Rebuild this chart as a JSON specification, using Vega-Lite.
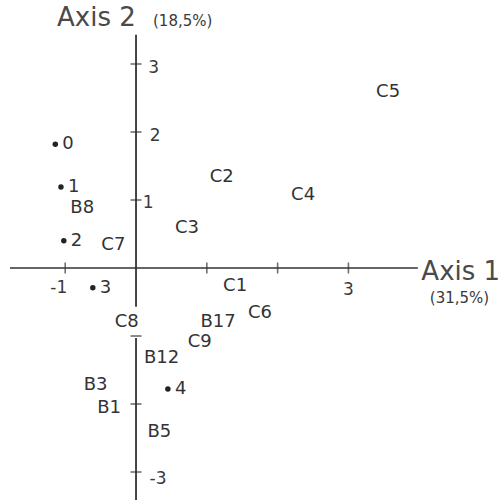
{
  "$schema": "https://vega.github.io/schema/vega-lite/v6.json",
  "width": 502,
  "height": 502,
  "padding": 0,
  "autosize": "none",
  "background": "white",
  "config": {"view": {"stroke": null}},
  "datasets": {
    "pts": [
      {"label": "0", "x": -1.14, "y": 1.82, "dot": true},
      {"label": "1", "x": -1.06, "y": 1.19, "dot": true},
      {"label": "2", "x": -1.02, "y": 0.40, "dot": true},
      {"label": "3", "x": -0.61, "y": -0.29, "dot": true},
      {"label": "4", "x": 0.45, "y": -1.78, "dot": true},
      {"label": "B8", "x": -0.76, "y": 0.88, "dot": false},
      {"label": "C7", "x": -0.32, "y": 0.34, "dot": false},
      {"label": "C3", "x": 0.72, "y": 0.59, "dot": false},
      {"label": "C2", "x": 1.21, "y": 1.34, "dot": false},
      {"label": "C4", "x": 2.36, "y": 1.07, "dot": false},
      {"label": "C5", "x": 3.56, "y": 2.59, "dot": false},
      {"label": "C1", "x": 1.40, "y": -0.26, "dot": false},
      {"label": "C6", "x": 1.75, "y": -0.66, "dot": false},
      {"label": "B17", "x": 1.16, "y": -0.79, "dot": false},
      {"label": "C9", "x": 0.90, "y": -1.09, "dot": false},
      {"label": "C8", "x": -0.13, "y": -0.79, "dot": false},
      {"label": "B12", "x": 0.36, "y": -1.32, "dot": false},
      {"label": "B3", "x": -0.57, "y": -1.72, "dot": false},
      {"label": "B1", "x": -0.38, "y": -2.06, "dot": false},
      {"label": "B5", "x": 0.33, "y": -2.41, "dot": false}
    ],
    "hax": [{"x1": -1.78, "x2": 3.98}],
    "vax": [{"y1": 3.43, "y2": -0.57}, {"y1": -1.03, "y2": -3.41}],
    "xt": [{"v": -1}, {"v": 1}, {"v": 2}, {"v": 3}],
    "yt": [{"v": 3}, {"v": 2}, {"v": 1}, {"v": -1}, {"v": -2}, {"v": -3}],
    "tl": [
      {"t": "-1", "x": -1.09, "y": -0.29},
      {"t": "3", "x": 3.0, "y": -0.32},
      {"t": "3", "x": 0.25, "y": 2.94},
      {"t": "2", "x": 0.27, "y": 1.94},
      {"t": "1", "x": 0.17, "y": 0.96},
      {"t": "-3", "x": 0.31, "y": -3.10}
    ],
    "big": [
      {"t": "Axis 2", "x": -1.116, "y": 3.68},
      {"t": "Axis 1", "x": 4.03, "y": -0.06}
    ],
    "small": [
      {"t": "(18,5%)", "x": 0.24, "y": 3.63},
      {"t": "(31,5%)", "x": 4.15, "y": -0.44}
    ]
  },
  "layer": [
    {
      "data": {"name": "hax"},
      "mark": {"type": "rule", "color": "#333", "strokeWidth": 1.6},
      "encoding": {
        "x": {"field": "x1", "type": "quantitative", "scale": {"domain": [-1.921, 5.169], "nice": false, "zero": false}, "axis": null},
        "x2": {"field": "x2"},
        "y": {"datum": 0, "type": "quantitative", "scale": {"domain": [-3.441, 3.941], "nice": false, "zero": false}, "axis": null}
      }
    },
    {
      "data": {"name": "vax"},
      "mark": {"type": "rule", "color": "#333", "strokeWidth": 1.8},
      "encoding": {
        "x": {"datum": 0, "type": "quantitative"},
        "y": {"field": "y1", "type": "quantitative"},
        "y2": {"field": "y2"}
      }
    },
    {
      "data": {"name": "xt"},
      "mark": {"type": "tick", "orient": "vertical", "color": "#333", "size": 11, "thickness": 1.6},
      "encoding": {
        "x": {"field": "v", "type": "quantitative"},
        "y": {"datum": 0, "type": "quantitative"}
      }
    },
    {
      "data": {"name": "yt"},
      "mark": {"type": "tick", "orient": "horizontal", "color": "#333", "size": 11, "thickness": 1.6},
      "encoding": {
        "x": {"datum": 0, "type": "quantitative"},
        "y": {"field": "v", "type": "quantitative"}
      }
    },
    {
      "data": {"name": "tl"},
      "mark": {"type": "text", "font": "DejaVu Sans", "fontSize": 17, "color": "#3a3a3a", "align": "center", "baseline": "middle"},
      "encoding": {
        "x": {"field": "x", "type": "quantitative"},
        "y": {"field": "y", "type": "quantitative"},
        "text": {"field": "t"}
      }
    },
    {
      "data": {"name": "pts"},
      "transform": [{"filter": "datum.dot"}],
      "mark": {"type": "point", "filled": true, "shape": "circle", "size": 30, "color": "#222", "opacity": 1},
      "encoding": {
        "x": {"field": "x", "type": "quantitative"},
        "y": {"field": "y", "type": "quantitative"}
      }
    },
    {
      "data": {"name": "pts"},
      "transform": [{"filter": "datum.dot"}],
      "mark": {"type": "text", "font": "DejaVu Sans", "fontSize": 18, "color": "#333", "align": "left", "baseline": "middle", "dx": 7},
      "encoding": {
        "x": {"field": "x", "type": "quantitative"},
        "y": {"field": "y", "type": "quantitative"},
        "text": {"field": "label"}
      }
    },
    {
      "data": {"name": "pts"},
      "transform": [{"filter": "!datum.dot"}],
      "mark": {"type": "text", "font": "DejaVu Sans", "fontSize": 18, "color": "#333", "align": "center", "baseline": "middle"},
      "encoding": {
        "x": {"field": "x", "type": "quantitative"},
        "y": {"field": "y", "type": "quantitative"},
        "text": {"field": "label"}
      }
    },
    {
      "data": {"name": "big"},
      "mark": {"type": "text", "font": "DejaVu Sans", "fontSize": 26, "color": "#4a4a4a", "align": "left", "baseline": "middle"},
      "encoding": {
        "x": {"field": "x", "type": "quantitative"},
        "y": {"field": "y", "type": "quantitative"},
        "text": {"field": "t"}
      }
    },
    {
      "data": {"name": "small"},
      "mark": {"type": "text", "font": "DejaVu Sans", "fontSize": 15, "color": "#3a3a3a", "align": "left", "baseline": "middle"},
      "encoding": {
        "x": {"field": "x", "type": "quantitative"},
        "y": {"field": "y", "type": "quantitative"},
        "text": {"field": "t"}
      }
    }
  ]
}
